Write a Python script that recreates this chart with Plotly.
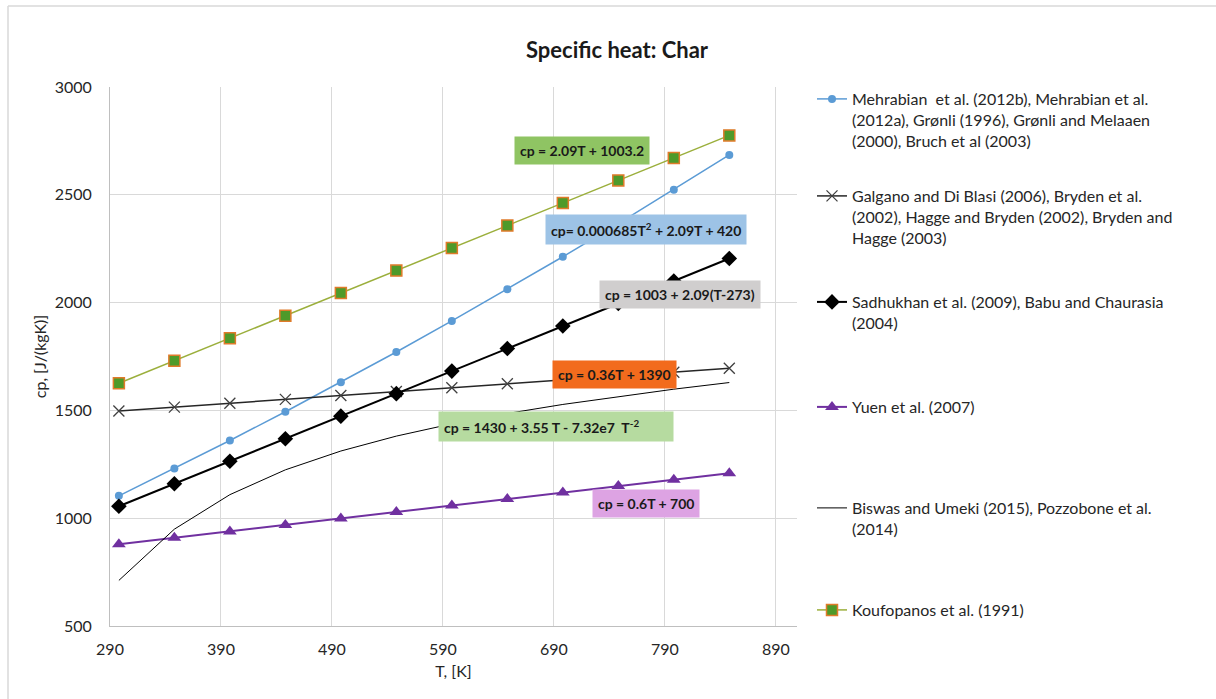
import plotly.graph_objects as go

W, H = 1216, 699
L, R, T_, B = 110, 797, 87, 626  # plot area in px

# ---------------- data ----------------
T = [298, 348, 398, 448, 498, 548, 598, 648, 698, 748, 798, 848]
cp_mehrabian = [1103.7, 1230.3, 1360.3, 1493.8, 1630.7, 1771.0, 1914.8, 2061.9, 2212.6, 2366.6, 2524.0, 2684.9]
cp_galgano = [1497.3, 1515.3, 1533.3, 1551.3, 1569.3, 1587.3, 1605.3, 1623.3, 1641.3, 1659.3, 1677.3, 1695.3]
cp_sadhukhan = [1055.3, 1159.8, 1264.3, 1368.8, 1473.3, 1577.8, 1682.3, 1786.8, 1891.3, 1995.8, 2100.3, 2204.8]
cp_yuen = [878.8, 908.8, 938.8, 968.8, 998.8, 1028.8, 1058.8, 1088.8, 1118.8, 1148.8, 1178.8, 1208.8]
cp_biswas = [711.5, 949.1, 1109.2, 1224.3, 1311.6, 1380.8, 1437.6, 1485.7, 1527.6, 1564.7, 1598.4, 1629.2]
cp_koufopanos = [1626.0, 1730.5, 1835.0, 1939.5, 2044.0, 2148.5, 2253.0, 2357.5, 2462.0, 2566.5, 2671.0, 2775.5]

names = [
    "Mehrabian  et al. (2012b), Mehrabian et al.<br>(2012a), Grønli (1996), Grønli and Melaaen<br>(2000), Bruch et al (2003)",
    "Galgano and Di Blasi (2006), Bryden et al.<br>(2002), Hagge and Bryden (2002), Bryden and<br>Hagge (2003)",
    "Sadhukhan et al. (2009), Babu and Chaurasia<br>(2004)",
    "Yuen et al. (2007)",
    "Biswas and Umeki (2015), Pozzobone et al.<br>(2014)",
    "Koufopanos et al. (1991)",
]
x_ticks = [290, 390, 490, 590, 690, 790, 890]
y_ticks = [500, 1000, 1500, 2000, 2500, 3000]

eq_texts = [
    "cp = 2.09T + 1003.2",
    "cp= 0.000685T<sup>2</sup> + 2.09T + 420",
    "cp = 1003 + 2.09(T-273)",
    "cp = 0.36T + 1390",
    "cp = 1430 + 3.55 T - 7.32e7  T<sup>-2</sup>",
    "cp = 0.6T + 700",
]

FONT = "Lato, Carlito, Calibri, 'Open Sans', sans-serif"

fig = go.Figure()

series = [
    dict(y=cp_mehrabian, line=dict(color="#5B9BD5", width=1.5),
         marker=dict(symbol="circle", size=8, color="#5B9BD5"), mode="lines+markers"),
    dict(y=cp_galgano, line=dict(color="#262626", width=1.5),
         marker=dict(symbol="x-thin-open", size=11, color="#404040", line=dict(width=1.3, color="#404040")),
         mode="lines+markers"),
    dict(y=cp_sadhukhan, line=dict(color="#000000", width=2),
         marker=dict(symbol="diamond", size=12, color="#000000"), mode="lines+markers"),
    dict(y=cp_yuen, line=dict(color="#7030A0", width=2),
         marker=dict(symbol="triangle-up", size=12, color="#7030A0"), mode="lines+markers"),
    dict(y=cp_biswas, line=dict(color="#000000", width=1), mode="lines"),
    dict(y=cp_koufopanos, line=dict(color="#9BAF3C", width=1.5),
         marker=dict(symbol="square", size=11, color="#4E9A2A", line=dict(width=1.5, color="#E07B2A")),
         mode="lines+markers"),
]

legend_y_px = [99, 196, 302, 407, 508, 610]
legend_ids = ["legend", "legend2", "legend3", "legend4", "legend5", "legend6"]

for i, s in enumerate(series):
    kw = dict(x=T, y=s["y"], mode=s["mode"], line=s["line"], name=names[i],
              legend=legend_ids[i], showlegend=True)
    if "marker" in s:
        kw["marker"] = s["marker"]
    fig.add_trace(go.Scatter(**kw))

legend_common = dict(
    xref="container", yref="container", xanchor="left", yanchor="top",
    bgcolor="rgba(0,0,0,0)", borderwidth=0, valign="top", itemwidth=30,
    font=dict(family=FONT, size=16, color="#262626"), tracegroupgap=0,
    itemclick=False, itemdoubleclick=False,
)
legend_layout = {}
for lid, ypx in zip(legend_ids, legend_y_px):
    d = dict(legend_common)
    d["x"] = 812 / W
    d["y"] = 1 - (ypx - 17) / H
    legend_layout[lid] = d

# equation annotations: (center x px, center y px, bg colour, box width or None)
eq_pos = [
    (582, 150, "#8FC463", None),
    (646, 229, "#9DC3E6", None),
    (680, 294, "#D0CECE", None),
    (614, 374, "#F26B1D", None),
    (556, 426, "#B6DBA0", 224),
    (646, 503, "#DDA3E3", None),
]
annotations = []
for txt, (cx, cy, bg, wbox) in zip(eq_texts, eq_pos):
    a = dict(
        text="<b>" + txt + "</b>", xref="paper", yref="paper",
        x=(cx - L) / (R - L), y=(B - cy) / (B - T_),
        xanchor="center", yanchor="middle",
        showarrow=False, bgcolor=bg, borderpad=5,
        font=dict(family=FONT, size=14, color="#1a1a1a"),
    )
    if wbox:
        a["width"] = wbox
        a["align"] = "left"
    annotations.append(a)

fig.update_layout(
    width=W, height=H, autosize=False,
    margin=dict(l=L, r=W - R, t=T_, b=H - B),
    paper_bgcolor="white", plot_bgcolor="white",
    font=dict(family=FONT, size=16, color="#262626"),
    title=dict(text="<b>Specific heat: Char</b>", x=617 / W, xanchor="center",
               y=1 - 50 / H, yanchor="middle", xref="container", yref="container",
               font=dict(family=FONT, size=22, color="#1a1a1a")),
    xaxis=dict(range=[290, 909], tickvals=x_ticks, ticktext=[str(v) for v in x_ticks],
               showgrid=True, gridcolor="#D9D9D9", gridwidth=1,
               showline=True, linecolor="#BFBFBF", linewidth=1, zeroline=False,
               ticks="", ticklen=0, ticklabelstandoff=9,
               tickfont=dict(family=FONT, size=16, color="#262626"),
               title=dict(text="T, [K]", font=dict(family=FONT, size=16, color="#262626"), standoff=8)),
    yaxis=dict(range=[500, 3000], tickvals=y_ticks, ticktext=[str(v) for v in y_ticks],
               showgrid=True, gridcolor="#D9D9D9", gridwidth=1,
               showline=True, linecolor="#BFBFBF", linewidth=1, zeroline=False,
               ticks="", ticklen=0, ticklabelstandoff=14,
               tickfont=dict(family=FONT, size=16, color="#262626"),
               title=dict(text="cp, [J/(kgK)]", font=dict(family=FONT, size=16, color="#262626"), standoff=4)),
    annotations=annotations,
    shapes=[
        dict(type="line", xref="paper", yref="paper",
             x0=(8 - L) / (R - L), x1=(1300 - L) / (R - L),
             y0=(B - 6) / (B - T_), y1=(B - 6) / (B - T_),
             line=dict(color="#D9D9D9", width=1.5)),
        dict(type="line", xref="paper", yref="paper",
             x0=(8 - L) / (R - L), x1=(8 - L) / (R - L),
             y0=(B - 6) / (B - T_), y1=(B - 760) / (B - T_),
             line=dict(color="#D9D9D9", width=1.5)),
    ],
    **legend_layout,
)

fig.write_html("out.html")
